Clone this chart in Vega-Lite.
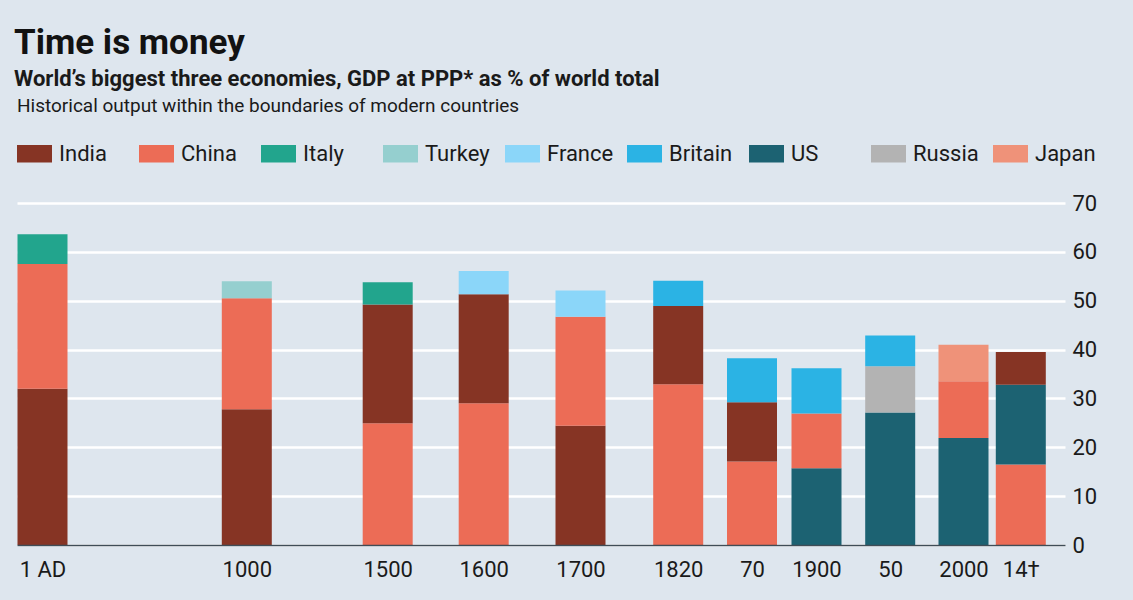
{
  "$schema": "https://vega.github.io/schema/vega-lite/v6.json",
  "width": 1048,
  "height": 342,
  "autosize": {"type": "none"},
  "padding": {"left": 17, "top": 203, "right": 68, "bottom": 55},
  "background": "#dee6ee",
  "config": {"view": {"stroke": null}, "font": "Roboto"},
  "title": {
    "text": "Time is money",
    "subtitle": "World’s biggest three economies, GDP at PPP* as % of world total",
    "anchor": "start",
    "dx": -3,
    "fontSize": 35,
    "fontWeight": "bold",
    "color": "#121212",
    "subtitleFontSize": 22,
    "subtitleFontWeight": "bold",
    "subtitleColor": "#1a1a1a",
    "subtitlePadding": 8,
    "offset": 7
  },
  "data": {
    "values": [
      {"year": 1, "country": "India", "share": 32.0},
      {"year": 1, "country": "China", "share": 25.5},
      {"year": 1, "country": "Italy", "share": 6.1},
      {"year": 1000, "country": "India", "share": 27.8},
      {"year": 1000, "country": "China", "share": 22.7},
      {"year": 1000, "country": "Turkey", "share": 3.5},
      {"year": 1500, "country": "China", "share": 24.9},
      {"year": 1500, "country": "India", "share": 24.3},
      {"year": 1500, "country": "Italy", "share": 4.6},
      {"year": 1600, "country": "China", "share": 29.0},
      {"year": 1600, "country": "India", "share": 22.3},
      {"year": 1600, "country": "France", "share": 4.8},
      {"year": 1700, "country": "India", "share": 24.4},
      {"year": 1700, "country": "China", "share": 22.3},
      {"year": 1700, "country": "France", "share": 5.4},
      {"year": 1820, "country": "China", "share": 32.9},
      {"year": 1820, "country": "India", "share": 16.0},
      {"year": 1820, "country": "Britain", "share": 5.2},
      {"year": 1870, "country": "China", "share": 17.1},
      {"year": 1870, "country": "India", "share": 12.1},
      {"year": 1870, "country": "Britain", "share": 9.0},
      {"year": 1900, "country": "US", "share": 15.7},
      {"year": 1900, "country": "China", "share": 11.2},
      {"year": 1900, "country": "Britain", "share": 9.3},
      {"year": 1950, "country": "US", "share": 27.1},
      {"year": 1950, "country": "Russia", "share": 9.5},
      {"year": 1950, "country": "Britain", "share": 6.3},
      {"year": 2000, "country": "US", "share": 21.9},
      {"year": 2000, "country": "China", "share": 11.6},
      {"year": 2000, "country": "Japan", "share": 7.5},
      {"year": 2014, "country": "China", "share": 16.5},
      {"year": 2014, "country": "US", "share": 16.3},
      {"year": 2014, "country": "India", "share": 6.7}
    ]
  },
  "mark": {"type": "bar", "width": 50},
  "encoding": {
    "x": {
      "field": "year",
      "type": "quantitative",
      "scale": {
        "domain": [-124, 1, 1000, 1500, 1600, 1700, 1820, 1870, 1900, 1950, 2000, 2014, 2060],
        "range": [0, 25.5, 229.8, 370.7, 466.7, 563.5, 661.2, 735, 799.5, 873.2, 946.5, 1003.8, 1048]
      },
      "axis": {
        "title": null,
        "values": [1, 1000, 1500, 1600, 1700, 1820, 1870, 1900, 1950, 2000, 2014],
        "format": "d",
        "labelExpr": "datum.value == 1 ? '1 AD' : datum.value == 1870 ? '70' : datum.value == 1950 ? '50' : datum.value == 2014 ? '14†' : datum.label",
        "ticks": false,
        "grid": false,
        "domain": true,
        "domainColor": "#3f4d57",
        "domainWidth": 1.5,
        "labelFontSize": 22,
        "labelColor": "#1a1a1a",
        "labelPadding": 14,
        "labelFlush": false,
        "labelOverlap": false,
        "zindex": 1
      }
    },
    "y": {
      "field": "share",
      "type": "quantitative",
      "stack": "zero",
      "scale": {"domain": [0, 70], "nice": false},
      "axis": {
        "orient": "right",
        "title": null,
        "values": [0, 10, 20, 30, 40, 50, 60, 70],
        "grid": true,
        "gridColor": "#ffffff",
        "gridWidth": 2.5,
        "domain": false,
        "ticks": false,
        "labelFontSize": 22,
        "labelColor": "#1a1a1a",
        "labelPadding": 7
      }
    },
    "color": {
      "field": "country",
      "type": "nominal",
      "scale": {
        "domain": ["India", "China", "Italy", "Turkey", "France", "Britain", "US", "Russia", "Japan"],
        "range": ["#863424", "#ec6c56", "#22a58d", "#95cfcf", "#8bd6f9", "#2bb3e4", "#1c6272", "#b3b3b3", "#ef9279"]
      },
      "legend": {
        "orient": "top",
        "direction": "horizontal",
        "columns": 9,
        "gridAlign": "all",
        "columnPadding": 13,
        "symbolType": "M-1,-0.5H1V0.5H-1Z",
        "symbolSize": 1225,
        "symbolStrokeWidth": 0,
        "symbolOpacity": 1,
        "labelFontSize": 22,
        "labelColor": "#1a1a1a",
        "labelOffset": 7,
        "title": "Historical output within the boundaries of modern countries",
        "titleLimit": 1000,
        "titleFontSize": 19,
        "titleFontWeight": "normal",
        "titleColor": "#1a1a1a",
        "titlePadding": 20,
        "offset": 38
      }
    },
    "order": {"field": "share", "sort": "descending"}
  }
}
